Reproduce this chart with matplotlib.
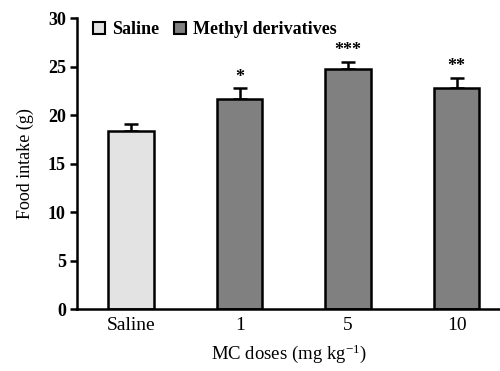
import matplotlib
matplotlib.use("Agg")
import matplotlib.pyplot as plt
from matplotlib.patches import Patch

categories = ["Saline", "1", "5", "10"]
values = [18.35, 21.7, 24.8, 22.85]
errors = [0.7, 1.05, 0.7, 0.95]
stars = ["", "*", "***", "**"]
colors = ["#e3e3e3", "#808080", "#808080", "#808080"]

plt.rcParams['font.family'] = ['Liberation Serif', 'DejaVu Serif']
plt.rcParams['mathtext.fontset'] = 'custom'
plt.rcParams['mathtext.rm'] = 'Liberation Serif'
plt.rcParams['mathtext.it'] = 'Liberation Serif:italic'

fig = plt.figure(figsize=(5.0, 3.71), dpi=100)
ax = fig.add_axes([0.154, 0.167, 0.846, 0.784])

x = list(range(len(categories)))
ax.bar(x, values, width=0.42, color=colors, edgecolor="black", linewidth=1.8, zorder=2)
ax.errorbar(x, values, yerr=[[0]*4, errors], fmt="none", ecolor="black",
            elinewidth=1.8, capsize=5, capthick=1.8, zorder=1)
for xi, v, e, s in zip(x, values, errors, stars):
    if s:
        ax.text(xi, v + e + 0.3, s, ha="center", va="bottom", fontsize=13, fontweight="bold")

ax.set_xlim(-0.5, 3.4)
ax.set_ylim(0, 30)
ax.set_yticks([0, 5, 10, 15, 20, 25, 30])
ax.set_xticks(x)
ax.set_xticklabels(categories, fontsize=14)
for lbl in ax.get_yticklabels():
    lbl.set_fontweight("bold")
    lbl.set_fontsize(13)
ax.tick_params(axis="x", length=0, pad=6)
ax.tick_params(axis="y", length=5, width=1.8, direction="out", pad=3)
for sp in ["top", "right"]:
    ax.spines[sp].set_visible(False)
for sp in ["left", "bottom"]:
    ax.spines[sp].set_linewidth(1.8)

ax.set_ylabel("Food intake (g)", fontsize=13, labelpad=10)
ax.set_xlabel("MC doses (mg kg$^{-1}$)", fontsize=13.5, labelpad=6)

handles = [Patch(facecolor="#e3e3e3", edgecolor="black", linewidth=1.5),
           Patch(facecolor="#808080", edgecolor="black", linewidth=1.5)]
leg = ax.legend(handles, ["Saline", "Methyl derivatives"], loc="upper left",
                bbox_to_anchor=(0.0, 1.045), ncol=2, frameon=False,
                handlelength=0.65, handleheight=0.65, handletextpad=0.4,
                columnspacing=0.8, prop={"weight": "bold", "size": 13})

fig.savefig("out.png", dpi=100)
